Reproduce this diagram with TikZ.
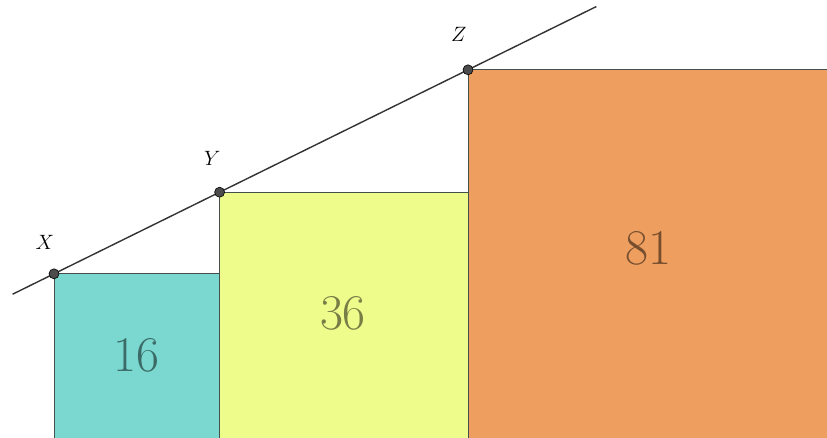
\documentclass[tikz,border=0pt]{standalone}
\begin{document}
\definecolor{tealsq}{RGB}{122,216,208}
\definecolor{yellowsq}{RGB}{238,252,140}
\definecolor{orangesq}{RGB}{238,158,94}
\definecolor{edgecol}{RGB}{70,80,75}
\begin{tikzpicture}[x=41.4pt,y=40.8pt,
  sq/.style={draw=edgecol,line width=0.8pt},
  num/.style={text=black,text opacity=0.5,font=\fontsize{50}{60}\selectfont},
  ptlabel/.style={font=\fontsize{20}{24}\selectfont},
  dot/.style={circle,fill=black!70,draw=black,line width=0.6pt,inner sep=0pt,minimum size=10pt}]
\useasboundingbox (-54pt,0pt) rectangle (773pt,437pt);
\path[sq,fill=tealsq] (0,-0.5) rectangle (4,4);
\path[sq,fill=yellowsq] (4,-0.5) rectangle (10,6);
\path[sq,fill=orangesq] (10,-0.5) rectangle (20,9);
\node[num] (n16) at (1.99,2.0) {16};
\node[num] (n36) at (6.98,3.04) {36};
\node[num] (n81) at (14.35,4.62) {81};
\coordinate (L) at (-1.0,3.5);
\coordinate (R) at (13.1,10.55);
\draw[black!80,line width=1.4pt] (L) -- (R);
\node[dot] (X) at (0,4) {};
\node[dot] (Y) at (4,6) {};
\node[dot] (Z) at (10,9) {};
\node[ptlabel] (lX) at (-0.22,4.76) {$X$};
\node[ptlabel] (lY) at (3.82,6.84) {$Y$};
\node[ptlabel] (lZ) at (9.78,9.86) {$Z$};
\end{tikzpicture}
\end{document}
